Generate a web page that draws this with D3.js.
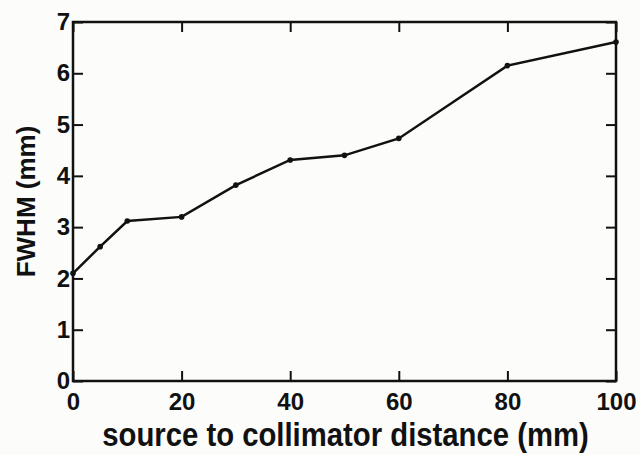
<!DOCTYPE html>
<html><head><meta charset="utf-8">
<script src="https://cdn.jsdelivr.net/npm/d3@7"></script>
<style>html,body{margin:0;padding:0;background:#fcfcfa;}svg{display:block;}</style>
</head><body>
<script>
const distances = [0, 5, 10, 20, 30, 40, 50, 60, 80, 100];
const fwhm = [2.1, 2.62, 3.12, 3.2, 3.82, 4.31, 4.40, 4.73, 6.15, 6.61];
const xTicks = [0, 20, 40, 60, 80, 100];
const yTicks = [0, 1, 2, 3, 4, 5, 6, 7];
const xLabel = "source to collimator distance (mm)";
const yLabel = "FWHM (mm)";

const W = 640, H = 455;
const m = {left: 73, right: 24, top: 22, bottom: 74};
const svg = d3.select("body").append("svg").attr("width", W).attr("height", H)
  .style("font-family", "Liberation Sans, Arial, sans-serif");
svg.append("rect").attr("width", W).attr("height", H).attr("fill", "#fcfcfa");

const x = d3.scaleLinear().domain([0, 100]).range([m.left, W - m.right]);
const y = d3.scaleLinear().domain([0, 7]).range([H - m.bottom, m.top]);
const tl = 10;

function styleAxis(g) {
  g.select(".domain").remove();
  g.selectAll(".tick line").attr("stroke", "#111").attr("stroke-width", 2);
  g.selectAll(".tick text").attr("fill", "#111").attr("font-size", 24).attr("font-weight", "bold");
}

// bottom axis
svg.append("g").attr("transform", `translate(0,${y(0)})`)
  .call(d3.axisBottom(x).tickValues(xTicks).tickSize(-tl).tickPadding(12).tickFormat(d3.format("d")))
  .call(styleAxis);
// top ticks
svg.append("g").attr("transform", `translate(0,${y(7)})`)
  .call(d3.axisTop(x).tickValues(xTicks).tickSize(-tl).tickFormat(""))
  .call(styleAxis);
// left axis
svg.append("g").attr("transform", `translate(${x(0)},0)`)
  .call(d3.axisLeft(y).tickValues(yTicks).tickSize(-tl).tickPadding(3).tickFormat(d3.format("d")))
  .call(styleAxis);
// right ticks
svg.append("g").attr("transform", `translate(${x(100)},0)`)
  .call(d3.axisRight(y).tickValues(yTicks).tickSize(-tl).tickFormat(""))
  .call(styleAxis);

// frame
svg.append("rect").attr("x", x(0)).attr("y", y(7)).attr("width", x(100) - x(0)).attr("height", y(0) - y(7))
  .attr("fill", "none").attr("stroke", "#111").attr("stroke-width", 2.5);

const pts = distances.map((d, i) => [d, fwhm[i]]);
svg.append("path").datum(pts)
  .attr("fill", "none").attr("stroke", "#111").attr("stroke-width", 2.5)
  .attr("d", d3.line().x(d => x(d[0])).y(d => y(d[1])));
svg.selectAll("circle.pt").data(pts).enter().append("circle")
  .attr("cx", d => x(d[0])).attr("cy", d => y(d[1])).attr("r", 2.8).attr("fill", "#111");

svg.append("text").attr("transform", `translate(${(x(0) + x(100)) / 2 + 1},446) scale(1,1.12)`)
  .attr("text-anchor", "middle").attr("font-size", 29.3).attr("font-weight", "bold").attr("fill", "#111")
  .text(xLabel);
svg.append("text").attr("transform", `translate(35,${(y(0) + y(7)) / 2}) rotate(-90)`)
  .attr("text-anchor", "middle").attr("font-size", 26).attr("font-weight", "bold").attr("fill", "#111")
  .text(yLabel);
</script>
</body></html>
